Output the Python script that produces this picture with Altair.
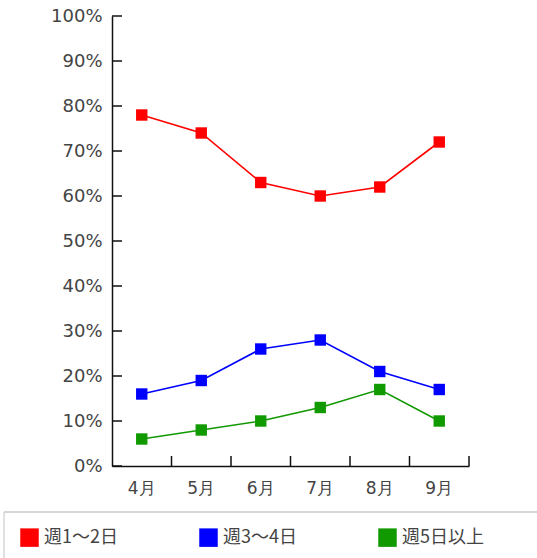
import altair as alt
import pandas as pd

# Monthly share of respondents by weekly frequency
months = ["4月", "5月", "6月", "7月", "8月", "9月"]
series_names = ["週1～2日", "週3～4日", "週5日以上"]
week_1_2 = [78, 74, 63, 60, 62, 72]
week_3_4 = [16, 19, 26, 28, 21, 17]
week_5_plus = [6, 8, 10, 13, 17, 10]
colors = ["#ff0000", "#0000ff", "#119900"]
y_ticks = [0, 10, 20, 30, 40, 50, 60, 70, 80, 90, 100]

rows = []
for name, vals in zip(series_names, [week_1_2, week_3_4, week_5_plus]):
    for m, v in zip(months, vals):
        rows.append({"month": m, "series": name, "value": v})
df = pd.DataFrame(rows)

FONT = "DejaVu Sans"
LEGEND_FONT = "Noto Sans CJK JP"
TEXT = "#444"
W, H = 357, 450

x_scale = alt.Scale(type="band", domain=months, paddingInner=0, paddingOuter=0)
y_scale = alt.Scale(domain=[0, 100], nice=False)

legend = alt.Legend(
    title=None,
    orient="none",
    direction="horizontal",
    legendX=-92,
    legendY=512,
    padding=0,
    symbolType="square",
    symbolSize=342,
    symbolStrokeWidth=0,
    symbolOpacity=1,
    labelFontSize=18,
    labelFont=LEGEND_FONT,
    labelColor=TEXT,
    labelOffset=5,
    columnPadding=81,
)
color = alt.Color(
    "series:N",
    sort=series_names,
    scale=alt.Scale(domain=series_names, range=colors),
    legend=legend,
)

x_enc = alt.X(
    "month:N",
    scale=x_scale,
    sort=months,
    bandPosition=0.5,
    axis=alt.Axis(
        title=None,
        ticks=False,
        labelAngle=0,
        labelPadding=14,
        labelFont=FONT,
        labelFontSize=17,
        labelColor=TEXT,
        domainColor="#111",
        domainWidth=1.5,
    ),
)
y_enc = alt.Y(
    "value:Q",
    scale=y_scale,
    axis=alt.Axis(
        title=None,
        values=y_ticks,
        ticks=False,
        grid=False,
        labelExpr="datum.value + '%'",
        labelPadding=10,
        labelFont=FONT,
        labelFontSize=18,
        labelColor=TEXT,
        domainColor="#111",
        domainWidth=1.5,
    ),
)

lines = alt.Chart(df).mark_line(strokeWidth=1.6).encode(
    x=x_enc, y=y_enc, color=color
)

points = alt.Chart(df).mark_square(size=130, opacity=1).encode(
    x=x_enc, y=y_enc, color=color
)

# inward tick marks on the value axis
ytick_df = pd.DataFrame({"v": y_ticks})
y_tick_marks = alt.Chart(ytick_df).mark_rule(color="#111", strokeWidth=1.5).encode(
    y=alt.Y("v:Q", scale=y_scale),
    x=alt.value(0),
    x2=alt.value(10),
)

# inward tick marks at the month boundaries
xtick_df = pd.DataFrame({"month": months})
x_tick_marks = alt.Chart(xtick_df).mark_rule(color="#111", strokeWidth=1.5).encode(
    x=alt.X("month:N", scale=x_scale, sort=months, bandPosition=1),
    y=alt.value(H - 10),
    y2=alt.value(H),
)

# frame around the legend row
frame = alt.Data(values=[{}])
frame_top = alt.Chart(frame).mark_rule(color="#d6d6d6", strokeWidth=2).encode(
    x=alt.value(-108), x2=alt.value(430), y=alt.value(496)
)
frame_left = alt.Chart(frame).mark_rule(color="#d6d6d6", strokeWidth=1.5).encode(
    x=alt.value(-108), y=alt.value(496), y2=alt.value(560)
)

chart = (
    alt.layer(frame_top, frame_left, lines, points, y_tick_marks, x_tick_marks)
    .properties(
        width=W,
        height=H,
        autosize=alt.AutoSizeParams(type="none"),
        padding={"left": 112, "top": 16, "right": 68, "bottom": 92},
        view=alt.ViewBackground(stroke="transparent", strokeWidth=0),
    )
    .configure_view(stroke="transparent", strokeWidth=0)
    .configure(background="white")
)

chart.save("out.html", embed_options={"renderer": "svg", "actions": False})
